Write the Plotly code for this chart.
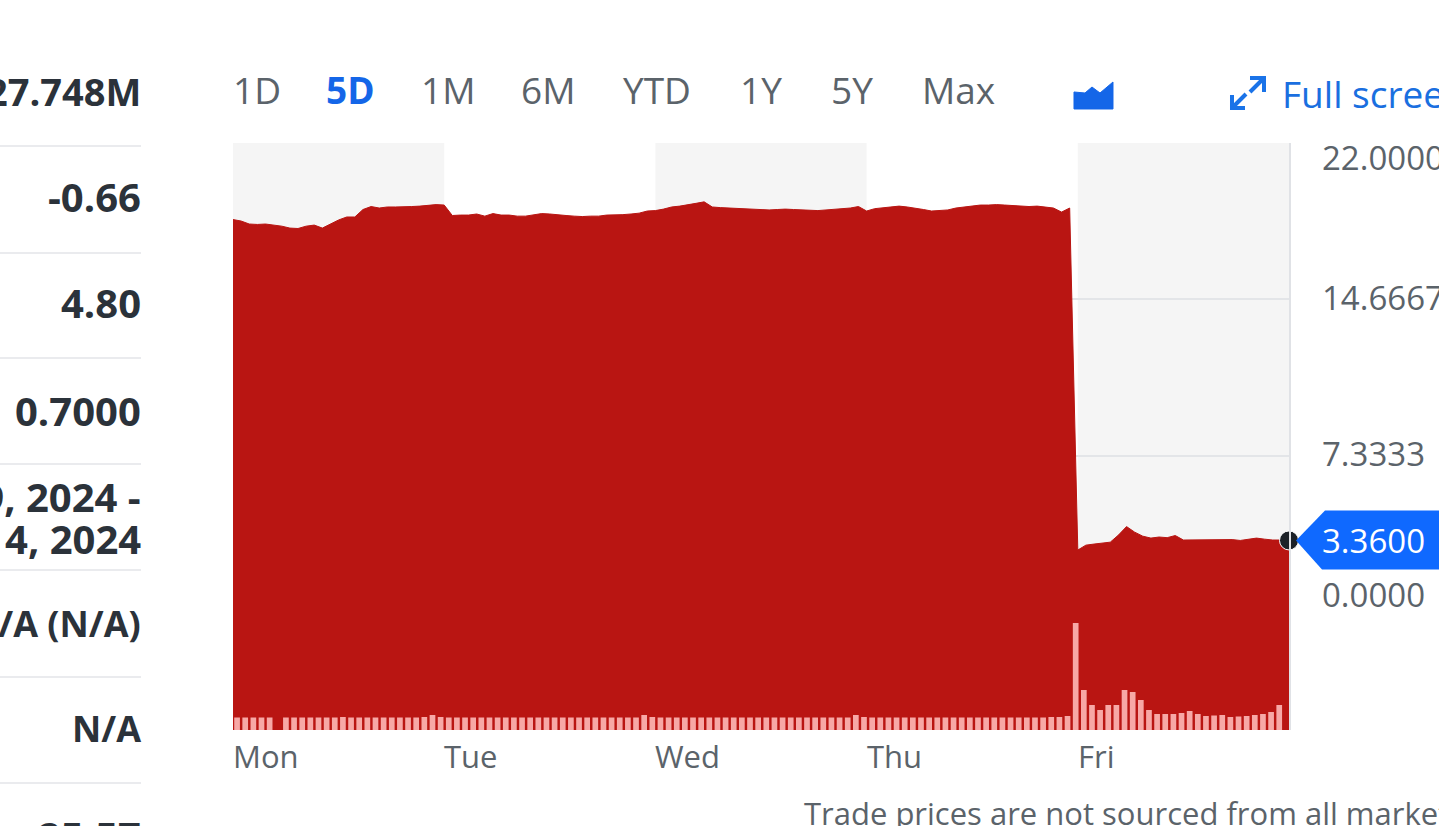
import plotly.graph_objects as go

W, H = 1439, 826
price_mon = [18.41,18.34,18.20,18.18,18.20,18.15,18.10,18.01,17.99,18.10,18.15,18.01,18.20,18.39,18.53,18.53,18.88,19.02,18.95,19.00,19.00,19.00,19.02,19.04,19.06,19.11]
price_tue = [19.09,18.60,18.62,18.62,18.67,18.57,18.69,18.62,18.62,18.57,18.57,18.62,18.69,18.67,18.62,18.60,18.57,18.55,18.57,18.57,18.62,18.62,18.64,18.67,18.71,18.81]
price_wed = [18.83,18.90,19.00,19.04,19.09,19.17,19.24,19.00,18.97,18.95,18.95,18.92,18.90,18.88,18.86,18.88,18.90,18.88,18.86,18.86,18.83,18.86,18.88,18.90,18.95,19.02]
price_thu = [18.81,18.92,18.97,19.00,19.04,19.00,18.95,18.88,18.81,18.83,18.86,18.95,19.00,19.04,19.09,19.09,19.11,19.09,19.06,19.04,19.02,19.04,19.00,18.95,18.76,18.95]
price_fri = [2.91,3.14,3.19,3.24,3.28,3.61,4.01,3.75,3.56,3.47,3.52,3.49,3.59,3.38,3.38,3.38,3.38,3.38,3.40,3.40,3.36,3.42,3.47,3.42,3.38,3.38,3.36]
price = price_mon + price_tue + price_wed + price_thu + price_fri

volume_mon = [1.25,1.25,1.25,1.25,1.25,0.0,1.25,1.25,1.25,1.25,1.25,1.25,1.25,1.3,1.25,1.25,1.25,1.25,1.25,1.25,1.25,1.25,1.25,1.3,1.5,1.3]
volume_tue = [1.25,1.25,1.25,1.25,1.25,1.25,1.25,1.25,1.25,1.25,1.25,1.25,1.25,1.25,1.25,1.25,1.25,1.25,1.25,1.25,1.25,1.25,1.25,1.25,1.5,1.3]
volume_wed = [1.25,1.25,1.25,1.25,1.25,1.25,1.25,1.25,1.25,1.25,1.25,1.25,1.25,1.25,1.25,1.25,1.25,1.25,1.25,1.25,1.25,1.25,1.25,1.25,1.5,1.3]
volume_thu = [1.25,1.25,1.25,1.25,1.25,1.25,1.25,1.25,1.25,1.25,1.25,1.25,1.25,1.25,1.25,1.25,1.25,1.25,1.25,1.25,1.25,1.25,1.3,1.3,1.4]
volume_fri = [10.7,4.0,2.5,2.0,2.5,2.5,4.0,3.8,3.0,2.0,1.6,1.6,1.6,1.7,1.9,1.6,1.4,1.45,1.5,1.3,1.35,1.4,1.5,1.6,1.8,2.5]
volume = volume_mon + volume_tue + volume_wed + volume_thu + volume_fri

days = ["Mon", "Tue", "Wed", "Thu", "Fri"]
day_starts = [0, 26, 52, 78, 104]
period_end = 130
y_ticks = [22.0, 14.6667, 7.3333, 0.0]
y_tick_labels = ["22.0000", "14.6667", "7.3333", "0.0000"]
y_tick_shift = [-14, 2, 2, 18]
y_floor = -5.53
y_top = 22.0
volume_top = 58.7
last_label = "3.3600"

ranges = ["1D", "5D", "1M", "6M", "YTD", "1Y", "5Y", "Max"]
range_left = [231, 324, 419, 519, 621, 738, 829, 920]

stat_values = ["27.748M", "-0.66", "4.80", "0.7000", "Nov 29, 2024 -", "Dec 14, 2024", "N/A (N/A)", "N/A", "25.57"]
stat_sizes = [38, 40, 40, 40, 40, 40, 36, 36, 40]
stat_y = [91, 196, 303, 410, 496, 538, 623, 728, 836]
rule_y = [146, 253, 358, 464, 570, 677, 783]

RED = "#b91512"
GREY = "#5b636a"
BLUE = "#0f69ff"
DARK = "#2b323a"
FONT = "Open Sans"

def px(x): return x / W
def py(y): return 1 - y / H

price_x = list(range(len(price)))
vol_x = list(range(len(volume)))

fig = go.Figure()
fig.add_trace(go.Scatter(x=price_x, y=[y_floor] * len(price), mode="lines",
                         line=dict(width=0), hoverinfo="skip", showlegend=False))
fig.add_trace(go.Scatter(x=price_x, y=price, mode="lines", fill="tonexty", fillcolor=RED,
                         line=dict(color=RED, width=1), showlegend=False, name="Price"))
fig.add_trace(go.Bar(x=vol_x, y=volume, xaxis="x2", yaxis="y2", marker=dict(color="#f7a8a6", line=dict(width=0)),
                     showlegend=False, name="Volume"))
fig.add_trace(go.Scatter(x=[price_x[-1]], y=[price[-1]], mode="markers", xaxis="x", yaxis="y", cliponaxis=False,
                         marker=dict(size=19, color="#1d2228", line=dict(color="#ffffff", width=1)),
                         showlegend=False))

shapes = []
bounds = day_starts + [period_end]
for i in range(len(days)):
    if i % 2 == 0:
        shapes.append(dict(type="rect", xref="x", yref="paper", x0=bounds[i], x1=bounds[i + 1],
                           y0=py(730), y1=py(143), fillcolor="#f5f5f5", line=dict(width=0), layer="below"))
for y in rule_y:
    shapes.append(dict(type="line", xref="paper", yref="paper", x0=0, x1=px(141), y0=py(y), y1=py(y),
                       line=dict(color="#e3e5e8", width=1.5)))

# price tag: vertical centre follows the last value on the axis scale
tag_y = 730 - (price[-1] - y_floor) / (y_top - y_floor) * (730 - 143)
tag = [(1296, tag_y), (1325, tag_y - 30), (1445, tag_y - 30), (1445, tag_y + 29), (1322, tag_y + 29)]
shapes.append(dict(type="path", xref="paper", yref="paper",
                   path="M " + " L ".join(f"{px(a):.5f} {py(b):.5f}" for a, b in tag) + " Z",
                   fillcolor=BLUE, line=dict(width=0), layer="above"))
# chart type icon
icon = [(1074, 92), (1085, 93), (1092, 87), (1100, 93), (1113, 82), (1113, 109), (1074, 109)]
shapes.append(dict(type="path", xref="paper", yref="paper",
                   path="M " + " L ".join(f"{px(a):.5f} {py(b):.5f}" for a, b in icon) + " Z",
                   fillcolor="#1466e8", line=dict(color="#1466e8", width=1)))
# full screen icon
for seg in [[(1250, 78), (1264, 78), (1264, 92)], [(1264, 78), (1250, 92)],
            [(1232, 95), (1232, 108), (1245, 108)], [(1232, 108), (1246, 94)]]:
    shapes.append(dict(type="path", xref="paper", yref="paper",
                       path="M " + " L ".join(f"{px(a):.5f} {py(b):.5f}" for a, b in seg),
                       line=dict(color="#1a73e8", width=4)))

ann = []
def text(x, y, s, size, color, anchor="left", weight=400):
    ann.append(dict(x=px(x), y=py(y), xref="paper", yref="paper", text=s,
                    showarrow=False, xanchor=anchor, yanchor="middle",
                    font=dict(family=FONT, size=size, color=color, weight=weight)))

for lab, left in zip(ranges, range_left):
    if lab == "5D":
        text(left, 89, lab, 37, "#1466e8", weight=700)
    else:
        text(left, 89, lab, 37, GREY, weight=500)
text(1280, 94, "Full screen", 37, "#1a6fe0", weight=500)
text(802, 813, "Trade prices are not sourced from all markets", 31, GREY)
for v, y, s in zip(stat_values, stat_y, stat_sizes):
    text(143, y, v, s, DARK, anchor="right", weight=700)

for name, st in zip(days, day_starts):
    ann.append(dict(x=st, y=py(756), xref="x", yref="paper", text=name, showarrow=False, xanchor="left",
                    yanchor="middle", xshift=-2, font=dict(family=FONT, size=31, color=GREY, weight=500)))
for tv, tl, sh in zip(y_ticks, y_tick_labels, y_tick_shift):
    ann.append(dict(x=px(1320), y=tv, xref="paper", yref="y", text=tl, showarrow=False, xanchor="left",
                    yanchor="middle", yshift=sh, font=dict(family=FONT, size=33, color=GREY, weight=500)))
ann.append(dict(x=px(1320), y=price[-1], xref="paper", yref="y", text=last_label, showarrow=False,
                xanchor="left", yanchor="middle", font=dict(family=FONT, size=33, color="#ffffff", weight=500)))

fig.update_layout(
    width=W, height=H, margin=dict(l=0, r=0, t=0, b=0), autosize=False,
    paper_bgcolor="#ffffff", plot_bgcolor="#ffffff", showlegend=False, bargap=0.3,
    font=dict(family=FONT),
    xaxis=dict(domain=[px(233), px(1289)], range=[0, period_end], showticklabels=False, showgrid=False,
               zeroline=False, ticks=""),
    yaxis=dict(domain=[py(730), py(143)], range=[y_floor, y_top], side="right", tickvals=y_ticks, showticklabels=False,
               gridcolor="#e3e5e8", gridwidth=1.5, zeroline=False, ticks="", showline=True, linecolor="#e0e2e6", linewidth=1.5),
    xaxis2=dict(domain=[px(233), px(1289)], overlaying="x", anchor="y2", range=[-0.5, 129.2], visible=False),
    yaxis2=dict(domain=[py(730), py(143)], overlaying="y", anchor="x2", range=[0, volume_top], visible=False),
    shapes=shapes, annotations=ann,
)
fig.write_html("out.html", config={"displayModeBar": False},
               post_script="document.body.style.margin='0';document.documentElement.style.overflow='hidden';document.body.style.overflow='hidden';")
